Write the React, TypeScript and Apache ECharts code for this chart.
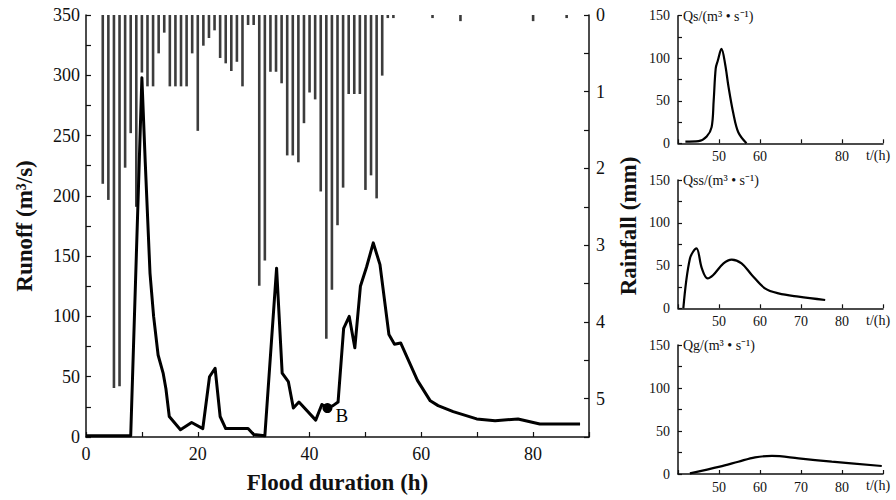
import React, { useEffect, useRef } from "react";
import * as echarts from "echarts";

// ---- Main chart data ----
const runoffPoints: [number, number][] = [
  [0, 1], [8, 1], [10, 298], [10.6, 228], [11.45, 136], [12.1, 100], [12.9, 68],
  [13.8, 53], [14.3, 40], [14.9, 17], [16.9, 6], [18.9, 12], [20.9, 7], [22.1, 50],
  [23.1, 57], [24, 17], [25, 7], [29, 7], [30, 2], [32, 1], [34.1, 140], [35.1, 53],
  [36.2, 46], [37.1, 24], [38.1, 29], [41.1, 14], [42.2, 27], [43.2, 24], [44.2, 26],
  [45.1, 29], [46.1, 90], [47.1, 100], [48.1, 74], [49.1, 125], [50.2, 141], [51.4, 161],
  [52.6, 143], [54.2, 85], [55.2, 77], [56.3, 78], [59.3, 47], [61.6, 30], [63, 26],
  [65.7, 21], [69.9, 15], [73.2, 13.5], [77.3, 15], [81.2, 10.8], [88.4, 10.8],
];

const rainHours = [
  3, 4, 5, 6, 7, 8, 9, 10, 11, 12, 13, 14, 15, 16, 17, 18, 19, 20, 21, 22, 23, 24,
  25, 26, 27, 28, 29, 30, 31, 32, 33, 34, 35, 36, 37, 38, 39, 40, 41, 42, 43, 44,
  45, 46, 47, 48, 49, 50, 51, 52, 53, 54, 55, 62, 67, 80, 86,
];
const rainValues = [
  2.2, 2.41, 4.86, 4.84, 1.99, 1.54, 2.5, 0.75, 0.93, 0.93, 0.5, 0.23, 0.93, 0.93, 0.93,
  0.93, 0.5, 1.51, 0.4, 0.3, 0.2, 0.56, 0.63, 0.73, 0.61, 0.93, 0.13, 0.13, 3.53, 3.2,
  0.74, 0.74, 0.89, 1.83, 1.83, 1.92, 1.41, 1.01, 1.1, 2.3, 4.22, 3.58, 2.74, 2.25,
  1.03, 1.03, 1.03, 2.28, 2.09, 2.39, 0.79, 0.04, 0.04, 0.04, 0.08, 0.08, 0.04,
];

const pointB: [number, number] = [43.2, 24];

const mainXTicks = [0, 20, 40, 60, 80];
const runoffTicks = [0, 50, 100, 150, 200, 250, 300, 350];
const rainTicks = [0, 1, 2, 3, 4, 5];

// ---- Small charts data ----
const qsPoints: [number, number][] = [
  [41.8, 2], [45, 2.5], [47, 8], [48.2, 19], [48.7, 50], [49.2, 88], [49.7, 97],
  [50.6, 111], [51.5, 93], [52.3, 67], [53.5, 35], [54.7, 13], [56.7, 0],
];
const qssPoints: [number, number][] = [
  [41.3, 0], [42.9, 58], [44.5, 70], [45.8, 47], [47.2, 35], [48.6, 39], [51.1, 52.6],
  [53.1, 57], [55.5, 52.6], [58, 39], [61.2, 23.4], [64.5, 17.5], [69.4, 13.6], [75.9, 9.7],
];
const qgPoints: [number, number][] = [
  [42.9, 0.8], [50.2, 8.5], [54.7, 14.3], [58.8, 19.4], [62.9, 21], [69.4, 18.2],
  [77.5, 14.3], [89.7, 9.3],
];

const smallTitles = ["Qs/(m³ • s⁻¹)", "Qss/(m³ • s⁻¹)", "Qg/(m³ • s⁻¹)"];
const smallXTicksA = [50, 60, 80];
const smallXTicksBC = [50, 60, 70, 80];
const smallYTicks = [0, 50, 100, 150];

const SERIF = "Liberation Serif";
const INK = "#111";

export default function App() {
  const ref = useRef<HTMLDivElement>(null);

  useEffect(() => {
    document.body.style.margin = "0";
    if (!ref.current) return;
    const chart = echarts.init(ref.current, undefined, { renderer: "svg" });

    const axisLine = { show: true, onZero: false, lineStyle: { color: INK, width: 1.5 } };

    const smallGrids = [
      { left: 678, top: 15.7, width: 205, height: 127.6 },
      { left: 678, top: 180, width: 205, height: 128.3 },
      { left: 678, top: 345, width: 205, height: 129 },
    ];
    const smallData = [qsPoints, qssPoints, qgPoints];
    const titleY = [16, 180, 345];

    const mainLabel = { color: INK, fontFamily: SERIF, fontSize: 18, fontWeight: "normal" };
    const smallLabel = { color: INK, fontFamily: SERIF, fontSize: 14, fontWeight: "normal" };

    const option: any = {
      animation: false,
      backgroundColor: "#fff",
      textStyle: { fontFamily: SERIF },
      grid: [{ left: 86, top: 15, width: 503, height: 422 }, ...smallGrids],
      xAxis: [
        {
          type: "value",
          gridIndex: 0,
          min: 0,
          max: 90,
          interval: 10,
          axisLine,
          axisTick: { show: true, inside: true, length: 5, lineStyle: { color: INK, width: 1.2 } },
          axisLabel: {
            ...mainLabel,
            margin: 8,
            formatter: (v: number) => (mainXTicks.includes(v) ? String(v) : ""),
          },
          splitLine: { show: false },
          name: "Flood duration (h)",
          nameLocation: "middle",
          nameGap: 34,
          nameTextStyle: { color: INK, fontFamily: SERIF, fontSize: 23, fontWeight: "bold" },
        },
        ...smallGrids.map((_, i) => ({
          type: "value",
          gridIndex: i + 1,
          min: 40,
          max: 90,
          interval: 10,
          axisLine,
          axisTick: { show: true, inside: true, length: 4, lineStyle: { color: INK, width: 1.2 } },
          axisLabel: {
            ...smallLabel,
            margin: 6,
            formatter: (v: number) =>
              (i === 0 ? smallXTicksA : smallXTicksBC).includes(v) ? String(v) : "",
          },
          splitLine: { show: false },
        })),
      ],
      yAxis: [
        {
          type: "value",
          gridIndex: 0,
          min: 0,
          max: 350,
          interval: 25,
          axisLine,
          axisTick: { show: true, inside: true, length: 5, lineStyle: { color: INK, width: 1.2 } },
          axisLabel: {
            ...mainLabel,
            margin: 6,
            formatter: (v: number) => (runoffTicks.includes(v) ? String(v) : ""),
          },
          splitLine: { show: false },
          name: "Runoff (m³/s)",
          nameLocation: "middle",
          nameGap: 50,
          nameTextStyle: { color: INK, fontFamily: SERIF, fontSize: 23, fontWeight: "bold" },
        },
        {
          type: "value",
          gridIndex: 0,
          position: "right",
          inverse: true,
          min: 0,
          max: 5.5,
          interval: 0.5,
          axisLine,
          axisTick: { show: true, inside: true, length: 5, lineStyle: { color: INK, width: 1.2 } },
          axisLabel: {
            ...mainLabel,
            margin: 7,
            formatter: (v: number) => (rainTicks.includes(v) ? String(v) : ""),
          },
          splitLine: { show: false },
          name: "Rainfall (mm)",
          nameLocation: "middle",
          nameGap: 28,
          nameTextStyle: { color: INK, fontFamily: SERIF, fontSize: 23, fontWeight: "bold" },
        },
        ...smallGrids.map((_, i) => ({
          type: "value",
          gridIndex: i + 1,
          min: 0,
          max: 150,
          interval: 25,
          axisLine,
          axisTick: { show: true, inside: true, length: 4, lineStyle: { color: INK, width: 1.2 } },
          axisLabel: {
            ...smallLabel,
            margin: 8,
            formatter: (v: number) => (smallYTicks.includes(v) ? String(v) : ""),
          },
          splitLine: { show: false },
        })),
      ],
      series: [
        {
          type: "bar",
          xAxisIndex: 0,
          yAxisIndex: 1,
          data: rainHours.map((h, i) => [h, rainValues[i]]),
          barWidth: 2.6,
          itemStyle: { color: "#3c3c3c" },
          z: 1,
        },
        {
          type: "line",
          xAxisIndex: 0,
          yAxisIndex: 0,
          data: runoffPoints,
          symbol: "none",
          lineStyle: { color: "#000", width: 3, join: "round" },
          z: 3,
        },
        {
          type: "scatter",
          xAxisIndex: 0,
          yAxisIndex: 0,
          data: [pointB],
          symbolSize: 10,
          itemStyle: { color: "#000", opacity: 1 },
          label: {
            show: true,
            formatter: "B",
            position: [13, 3],
            color: "#000",
            opacity: 1,
            fontFamily: SERIF,
            fontSize: 19,
          },
          z: 4,
        },
        ...smallData.map((d, i) => ({
          type: "line",
          xAxisIndex: i + 1,
          yAxisIndex: i + 2,
          data: d,
          smooth: 0.35,
          symbol: "none",
          lineStyle: { color: "#000", width: 2.2 },
        })),
      ],
      graphic: [
        ...smallTitles.map((t, i) => ({
          type: "text",
          x: 683,
          y: titleY[i],
          style: {
            text: t,
            fill: INK,
            font: `14px ${SERIF}`,
            verticalAlign: "middle",
          },
        })),
        ...[155, 320, 485].map((y) => ({
          type: "text",
          x: 866,
          y,
          style: { text: "t/(h)", fill: INK, font: `14px ${SERIF}`, verticalAlign: "middle" },
        })),
      ],
    };

    chart.setOption(option);
    return () => chart.dispose();
  }, []);

  return <div ref={ref} style={{ width: 896, height: 500 }} />;
}
